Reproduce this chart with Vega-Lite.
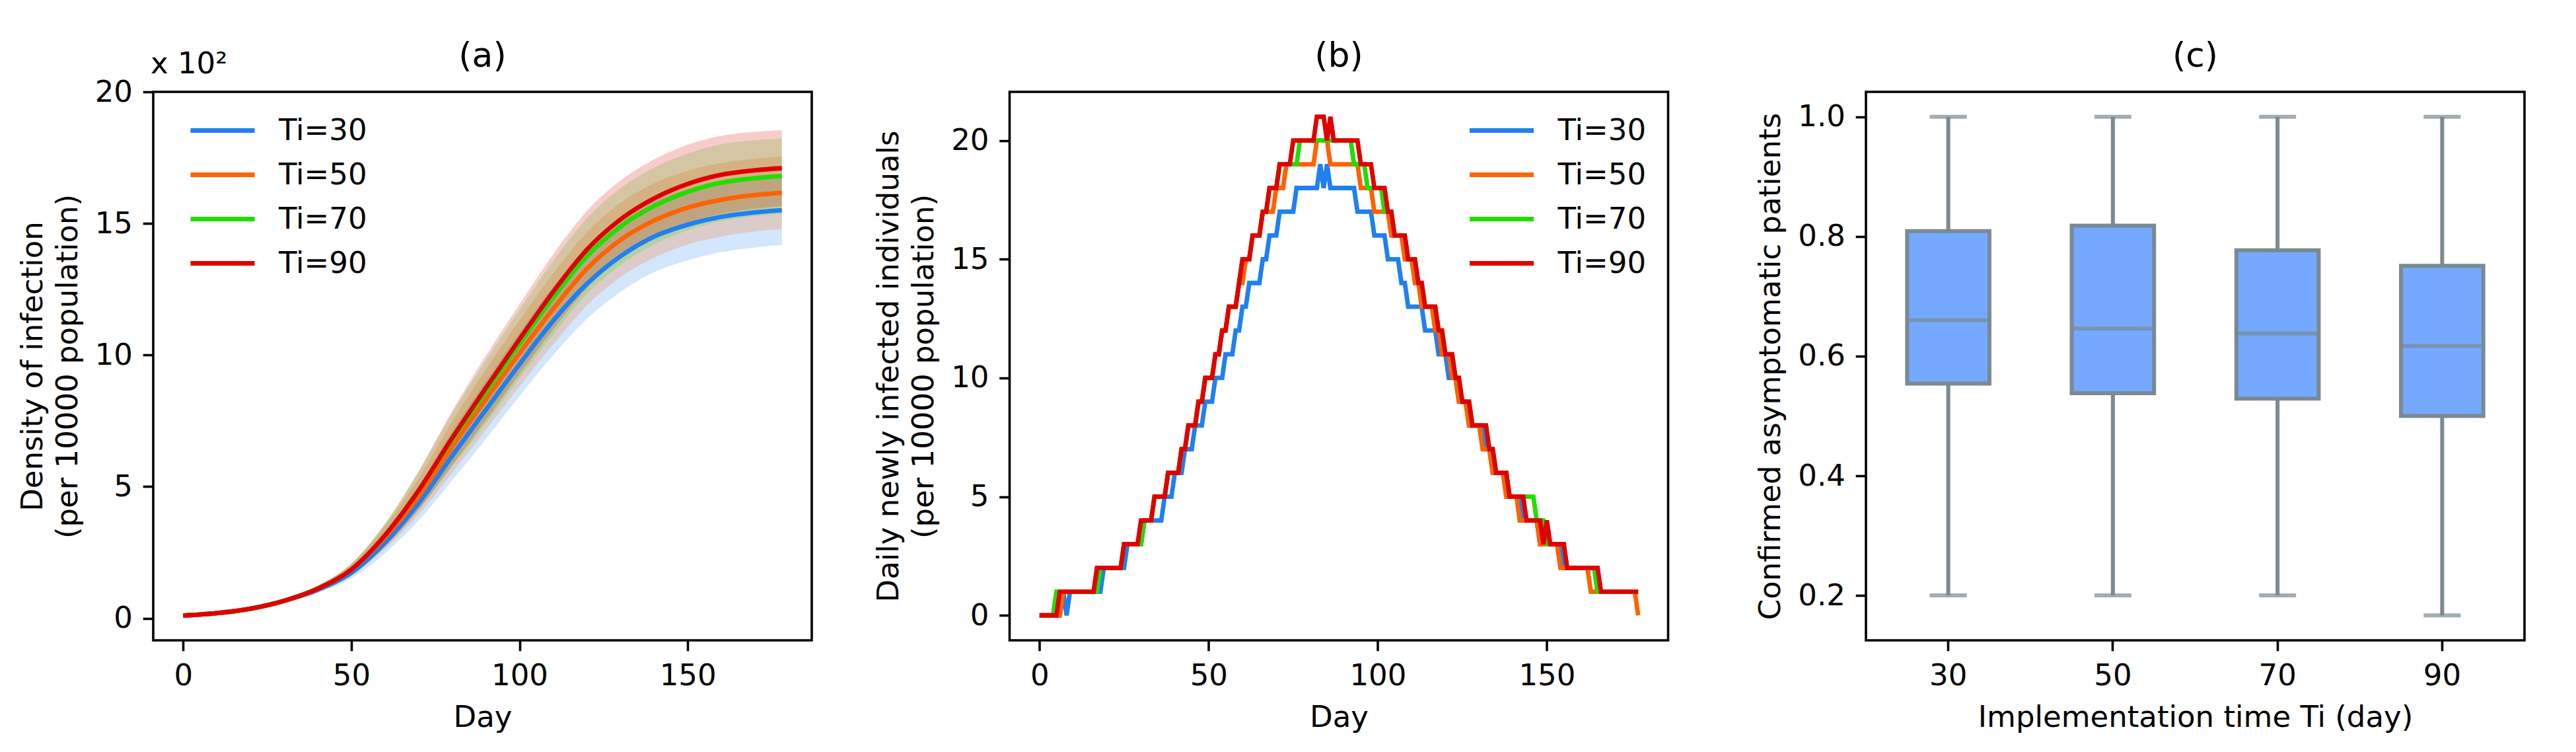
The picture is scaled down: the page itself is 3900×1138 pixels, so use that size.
{
  "$schema": "https://vega.github.io/schema/vega-lite/v6.json",
  "background": "white",
  "padding": {"left": 25, "top": 57, "right": 5, "bottom": 5},
  "bounds": "flush",
  "spacing": 299.5,
  "resolve": {"scale": {"stroke": "independent", "fill": "independent", "x": "independent", "y": "independent"}, "legend": {"stroke": "independent", "fill": "independent"}},
  "config": {
    "font": "DejaVu Sans",
    "view": {"stroke": "black", "strokeWidth": 3.6},
    "axis": {"domain": false, "grid": false, "tickColor": "black", "tickWidth": 3.6, "tickSize": 15.8, "labelPadding": 15.8, "labelFontSize": 45, "labelColor": "black", "labelFont": "DejaVu Sans", "titleFont": "DejaVu Sans", "titleFontSize": 45, "titleFontWeight": "normal", "titleColor": "black", "titlePadding": 18, "titleLineHeight": 53, "labelFlush": false, "labelOverlap": false},
    "title": {"fontSize": 52, "fontWeight": "normal", "font": "DejaVu Sans", "color": "black", "frame": "group", "baseline": "alphabetic", "offset": 27},
    "legend": {"labelFontSize": 45, "labelFont": "DejaVu Sans", "labelColor": "black", "symbolType": "stroke", "symbolSize": 9409, "symbolStrokeWidth": 6.8, "labelOffset": 33, "rowPadding": 21, "padding": 0, "clipHeight": 45}
  },
  "hconcat": [
    {
      "width": 997,
      "height": 830,
      "title": {"text": "(a)", "dy": 64},
      "data": {"values": [
        {"Ti": "Ti=30", "day": 0, "v": 0.10, "lo": 0.096, "hi": 0.104},
        {"Ti": "Ti=30", "day": 10, "v": 0.19, "lo": 0.18, "hi": 0.20},
        {"Ti": "Ti=30", "day": 20, "v": 0.36, "lo": 0.34, "hi": 0.38},
        {"Ti": "Ti=30", "day": 30, "v": 0.66, "lo": 0.61, "hi": 0.71},
        {"Ti": "Ti=30", "day": 40, "v": 1.08, "lo": 0.97, "hi": 1.19},
        {"Ti": "Ti=30", "day": 50, "v": 1.72, "lo": 1.51, "hi": 1.93},
        {"Ti": "Ti=30", "day": 60, "v": 2.87, "lo": 2.47, "hi": 3.27},
        {"Ti": "Ti=30", "day": 70, "v": 4.37, "lo": 3.71, "hi": 5.03},
        {"Ti": "Ti=30", "day": 80, "v": 6.17, "lo": 5.24, "hi": 7.10},
        {"Ti": "Ti=30", "day": 90, "v": 7.92, "lo": 6.81, "hi": 9.03},
        {"Ti": "Ti=30", "day": 100, "v": 9.65, "lo": 8.44, "hi": 10.86},
        {"Ti": "Ti=30", "day": 110, "v": 11.3, "lo": 10.0, "hi": 12.6},
        {"Ti": "Ti=30", "day": 120, "v": 12.7, "lo": 11.37, "hi": 14.03},
        {"Ti": "Ti=30", "day": 130, "v": 13.75, "lo": 12.4, "hi": 15.1},
        {"Ti": "Ti=30", "day": 140, "v": 14.5, "lo": 13.15, "hi": 15.85},
        {"Ti": "Ti=30", "day": 150, "v": 14.95, "lo": 13.6, "hi": 16.3},
        {"Ti": "Ti=30", "day": 160, "v": 15.25, "lo": 13.91, "hi": 16.59},
        {"Ti": "Ti=30", "day": 170, "v": 15.42, "lo": 14.09, "hi": 16.75},
        {"Ti": "Ti=30", "day": 178, "v": 15.5, "lo": 14.18, "hi": 16.82},
        {"Ti": "Ti=50", "day": 0, "v": 0.10, "lo": 0.096, "hi": 0.104},
        {"Ti": "Ti=50", "day": 10, "v": 0.19, "lo": 0.18, "hi": 0.20},
        {"Ti": "Ti=50", "day": 20, "v": 0.36, "lo": 0.34, "hi": 0.38},
        {"Ti": "Ti=50", "day": 30, "v": 0.66, "lo": 0.61, "hi": 0.71},
        {"Ti": "Ti=50", "day": 40, "v": 1.12, "lo": 1.01, "hi": 1.23},
        {"Ti": "Ti=50", "day": 50, "v": 1.85, "lo": 1.63, "hi": 2.07},
        {"Ti": "Ti=50", "day": 60, "v": 3.07, "lo": 2.64, "hi": 3.50},
        {"Ti": "Ti=50", "day": 70, "v": 4.63, "lo": 3.94, "hi": 5.32},
        {"Ti": "Ti=50", "day": 80, "v": 6.51, "lo": 5.53, "hi": 7.49},
        {"Ti": "Ti=50", "day": 90, "v": 8.31, "lo": 7.15, "hi": 9.47},
        {"Ti": "Ti=50", "day": 100, "v": 10.07, "lo": 8.81, "hi": 11.33},
        {"Ti": "Ti=50", "day": 110, "v": 11.75, "lo": 10.4, "hi": 13.1},
        {"Ti": "Ti=50", "day": 120, "v": 13.27, "lo": 11.88, "hi": 14.66},
        {"Ti": "Ti=50", "day": 130, "v": 14.37, "lo": 12.96, "hi": 15.78},
        {"Ti": "Ti=50", "day": 140, "v": 15.11, "lo": 13.7, "hi": 16.52},
        {"Ti": "Ti=50", "day": 150, "v": 15.6, "lo": 14.2, "hi": 17.0},
        {"Ti": "Ti=50", "day": 160, "v": 15.9, "lo": 14.5, "hi": 17.3},
        {"Ti": "Ti=50", "day": 170, "v": 16.08, "lo": 14.7, "hi": 17.46},
        {"Ti": "Ti=50", "day": 178, "v": 16.16, "lo": 14.79, "hi": 17.53},
        {"Ti": "Ti=70", "day": 0, "v": 0.10, "lo": 0.096, "hi": 0.104},
        {"Ti": "Ti=70", "day": 10, "v": 0.19, "lo": 0.18, "hi": 0.20},
        {"Ti": "Ti=70", "day": 20, "v": 0.36, "lo": 0.34, "hi": 0.38},
        {"Ti": "Ti=70", "day": 30, "v": 0.66, "lo": 0.61, "hi": 0.71},
        {"Ti": "Ti=70", "day": 40, "v": 1.12, "lo": 1.01, "hi": 1.23},
        {"Ti": "Ti=70", "day": 50, "v": 1.85, "lo": 1.63, "hi": 2.07},
        {"Ti": "Ti=70", "day": 60, "v": 3.15, "lo": 2.71, "hi": 3.59},
        {"Ti": "Ti=70", "day": 70, "v": 4.85, "lo": 4.12, "hi": 5.58},
        {"Ti": "Ti=70", "day": 80, "v": 6.78, "lo": 5.76, "hi": 7.80},
        {"Ti": "Ti=70", "day": 90, "v": 8.6, "lo": 7.4, "hi": 9.8},
        {"Ti": "Ti=70", "day": 100, "v": 10.42, "lo": 9.12, "hi": 11.72},
        {"Ti": "Ti=70", "day": 110, "v": 12.18, "lo": 10.78, "hi": 13.58},
        {"Ti": "Ti=70", "day": 120, "v": 13.75, "lo": 12.31, "hi": 15.19},
        {"Ti": "Ti=70", "day": 130, "v": 14.88, "lo": 13.42, "hi": 16.34},
        {"Ti": "Ti=70", "day": 140, "v": 15.66, "lo": 14.2, "hi": 17.12},
        {"Ti": "Ti=70", "day": 150, "v": 16.2, "lo": 14.74, "hi": 17.66},
        {"Ti": "Ti=70", "day": 160, "v": 16.55, "lo": 15.09, "hi": 18.01},
        {"Ti": "Ti=70", "day": 170, "v": 16.72, "lo": 15.28, "hi": 18.16},
        {"Ti": "Ti=70", "day": 178, "v": 16.8, "lo": 15.37, "hi": 18.23},
        {"Ti": "Ti=90", "day": 0, "v": 0.10, "lo": 0.096, "hi": 0.104},
        {"Ti": "Ti=90", "day": 10, "v": 0.19, "lo": 0.18, "hi": 0.20},
        {"Ti": "Ti=90", "day": 20, "v": 0.36, "lo": 0.34, "hi": 0.38},
        {"Ti": "Ti=90", "day": 30, "v": 0.66, "lo": 0.61, "hi": 0.71},
        {"Ti": "Ti=90", "day": 40, "v": 1.12, "lo": 1.01, "hi": 1.23},
        {"Ti": "Ti=90", "day": 50, "v": 1.85, "lo": 1.63, "hi": 2.07},
        {"Ti": "Ti=90", "day": 60, "v": 3.15, "lo": 2.71, "hi": 3.59},
        {"Ti": "Ti=90", "day": 70, "v": 4.85, "lo": 4.12, "hi": 5.58},
        {"Ti": "Ti=90", "day": 80, "v": 6.85, "lo": 5.82, "hi": 7.88},
        {"Ti": "Ti=90", "day": 90, "v": 8.75, "lo": 7.53, "hi": 9.98},
        {"Ti": "Ti=90", "day": 100, "v": 10.6, "lo": 9.28, "hi": 11.93},
        {"Ti": "Ti=90", "day": 110, "v": 12.4, "lo": 10.97, "hi": 13.83},
        {"Ti": "Ti=90", "day": 120, "v": 14.0, "lo": 12.53, "hi": 15.47},
        {"Ti": "Ti=90", "day": 130, "v": 15.15, "lo": 13.67, "hi": 16.63},
        {"Ti": "Ti=90", "day": 140, "v": 15.95, "lo": 14.47, "hi": 17.43},
        {"Ti": "Ti=90", "day": 150, "v": 16.5, "lo": 15.02, "hi": 17.99},
        {"Ti": "Ti=90", "day": 160, "v": 16.85, "lo": 15.37, "hi": 18.33},
        {"Ti": "Ti=90", "day": 170, "v": 17.02, "lo": 15.56, "hi": 18.48},
        {"Ti": "Ti=90", "day": 178, "v": 17.1, "lo": 15.65, "hi": 18.55}
      ]},
      "layer": [
        {
          "mark": {"type": "area", "fillOpacity": 0.2, "interpolate": "monotone"},
          "encoding": {
            "x": {"field": "day", "type": "quantitative", "scale": {"domain": [-8.9, 186.9], "nice": false, "zero": false}, "axis": {"title": "Day", "values": [0, 50, 100, 150]}},
            "y": {"field": "lo", "type": "quantitative", "scale": {"domain": [-0.84, 20], "nice": false, "zero": false}, "axis": {"title": ["Density of infection", "(per 10000 population)"], "values": [0, 5, 10, 15, 20]}},
            "y2": {"field": "hi"},
            "fill": {"field": "Ti", "type": "nominal", "scale": {"domain": ["Ti=30", "Ti=50", "Ti=70", "Ti=90"], "range": ["#1f80f0", "#ff6200", "#22dd00", "#e00000"]}, "legend": {"title": null, "orient": "none", "legendX": 53, "legendY": 36}}
          }
        },
        {
          "mark": {"type": "line", "strokeWidth": 6.8, "interpolate": "monotone"},
          "encoding": {
            "x": {"field": "day", "type": "quantitative"},
            "y": {"field": "v", "type": "quantitative"},
            "stroke": {"field": "Ti", "type": "nominal", "scale": {"domain": ["Ti=30", "Ti=50", "Ti=70", "Ti=90"], "range": ["#1f80f0", "#ff6200", "#22dd00", "#e00000"]}, "legend": {"title": null, "orient": "none", "legendX": 53, "legendY": 36}}
          }
        },
        {
          "data": {"values": [{"t": "x 10²"}]},
          "mark": {"type": "text", "align": "left", "baseline": "alphabetic", "fontSize": 45, "color": "black", "dx": -4, "dy": -28},
          "encoding": {
            "text": {"field": "t"},
            "x": {"datum": -8.9, "type": "quantitative"},
            "y": {"datum": 20, "type": "quantitative"}
          }
        }
      ]
    },
    {
      "width": 997,
      "height": 830,
      "title": "(b)",
      "data": {"values": [
        {"Ti":"Ti=30","day":0,"v":0},{"Ti":"Ti=30","day":6,"v":0},{"Ti":"Ti=30","day":7,"v":1},{"Ti":"Ti=30","day":8,"v":0},{"Ti":"Ti=30","day":9,"v":1},{"Ti":"Ti=30","day":18,"v":1},{"Ti":"Ti=30","day":19,"v":2},{"Ti":"Ti=30","day":25,"v":2},{"Ti":"Ti=30","day":26,"v":3},{"Ti":"Ti=30","day":30,"v":3},{"Ti":"Ti=30","day":31,"v":4},{"Ti":"Ti=30","day":36,"v":4},{"Ti":"Ti=30","day":37,"v":5},{"Ti":"Ti=30","day":39,"v":5},{"Ti":"Ti=30","day":40,"v":6},{"Ti":"Ti=30","day":42,"v":6},{"Ti":"Ti=30","day":43,"v":7},{"Ti":"Ti=30","day":45,"v":7},{"Ti":"Ti=30","day":46,"v":8},{"Ti":"Ti=30","day":48,"v":8},{"Ti":"Ti=30","day":49,"v":9},{"Ti":"Ti=30","day":51,"v":9},{"Ti":"Ti=30","day":52,"v":10},{"Ti":"Ti=30","day":54,"v":10},{"Ti":"Ti=30","day":55,"v":11},{"Ti":"Ti=30","day":57,"v":11},{"Ti":"Ti=30","day":58,"v":12},{"Ti":"Ti=30","day":59,"v":12},{"Ti":"Ti=30","day":60,"v":13},{"Ti":"Ti=30","day":61,"v":13},{"Ti":"Ti=30","day":62,"v":14},{"Ti":"Ti=30","day":65,"v":14},{"Ti":"Ti=30","day":66,"v":15},{"Ti":"Ti=30","day":67,"v":15},{"Ti":"Ti=30","day":68,"v":16},{"Ti":"Ti=30","day":70,"v":16},{"Ti":"Ti=30","day":71,"v":17},{"Ti":"Ti=30","day":75,"v":17},{"Ti":"Ti=30","day":76,"v":18},{"Ti":"Ti=30","day":82,"v":18},{"Ti":"Ti=30","day":83,"v":19},{"Ti":"Ti=30","day":84,"v":18},{"Ti":"Ti=30","day":85,"v":19},{"Ti":"Ti=30","day":86,"v":18},{"Ti":"Ti=30","day":93,"v":18},{"Ti":"Ti=30","day":94,"v":17},{"Ti":"Ti=30","day":98,"v":17},{"Ti":"Ti=30","day":99,"v":16},{"Ti":"Ti=30","day":102,"v":16},{"Ti":"Ti=30","day":103,"v":15},{"Ti":"Ti=30","day":106,"v":15},{"Ti":"Ti=30","day":107,"v":14},{"Ti":"Ti=30","day":108,"v":14},{"Ti":"Ti=30","day":109,"v":13},{"Ti":"Ti=30","day":113,"v":13},{"Ti":"Ti=30","day":114,"v":12},{"Ti":"Ti=30","day":117,"v":12},{"Ti":"Ti=30","day":118,"v":11},{"Ti":"Ti=30","day":120,"v":11},{"Ti":"Ti=30","day":121,"v":10},{"Ti":"Ti=30","day":123,"v":10},{"Ti":"Ti=30","day":124,"v":9},{"Ti":"Ti=30","day":126,"v":9},{"Ti":"Ti=30","day":127,"v":8},{"Ti":"Ti=30","day":131,"v":8},{"Ti":"Ti=30","day":132,"v":7},{"Ti":"Ti=30","day":133,"v":7},{"Ti":"Ti=30","day":134,"v":6},{"Ti":"Ti=30","day":138,"v":6},{"Ti":"Ti=30","day":139,"v":5},{"Ti":"Ti=30","day":142,"v":5},{"Ti":"Ti=30","day":143,"v":4},{"Ti":"Ti=30","day":147,"v":4},{"Ti":"Ti=30","day":148,"v":3},{"Ti":"Ti=30","day":154,"v":3},{"Ti":"Ti=30","day":155,"v":2},{"Ti":"Ti=30","day":164,"v":2},{"Ti":"Ti=30","day":165,"v":1},{"Ti":"Ti=30","day":177,"v":1},
        {"Ti":"Ti=50","day":0,"v":0},{"Ti":"Ti=50","day":6,"v":0},{"Ti":"Ti=50","day":7,"v":1},{"Ti":"Ti=50","day":16,"v":1},{"Ti":"Ti=50","day":17,"v":2},{"Ti":"Ti=50","day":24,"v":2},{"Ti":"Ti=50","day":25,"v":3},{"Ti":"Ti=50","day":30,"v":3},{"Ti":"Ti=50","day":31,"v":4},{"Ti":"Ti=50","day":33,"v":4},{"Ti":"Ti=50","day":34,"v":5},{"Ti":"Ti=50","day":37,"v":5},{"Ti":"Ti=50","day":38,"v":6},{"Ti":"Ti=50","day":41,"v":6},{"Ti":"Ti=50","day":42,"v":7},{"Ti":"Ti=50","day":43,"v":7},{"Ti":"Ti=50","day":44,"v":8},{"Ti":"Ti=50","day":46,"v":8},{"Ti":"Ti=50","day":47,"v":9},{"Ti":"Ti=50","day":48,"v":9},{"Ti":"Ti=50","day":49,"v":10},{"Ti":"Ti=50","day":51,"v":10},{"Ti":"Ti=50","day":52,"v":11},{"Ti":"Ti=50","day":53,"v":11},{"Ti":"Ti=50","day":54,"v":12},{"Ti":"Ti=50","day":55,"v":12},{"Ti":"Ti=50","day":56,"v":13},{"Ti":"Ti=50","day":58,"v":13},{"Ti":"Ti=50","day":59,"v":14},{"Ti":"Ti=50","day":60,"v":14},{"Ti":"Ti=50","day":61,"v":15},{"Ti":"Ti=50","day":62,"v":15},{"Ti":"Ti=50","day":63,"v":16},{"Ti":"Ti=50","day":65,"v":16},{"Ti":"Ti=50","day":66,"v":17},{"Ti":"Ti=50","day":69,"v":17},{"Ti":"Ti=50","day":70,"v":18},{"Ti":"Ti=50","day":72,"v":18},{"Ti":"Ti=50","day":73,"v":19},{"Ti":"Ti=50","day":81,"v":19},{"Ti":"Ti=50","day":82,"v":20},{"Ti":"Ti=50","day":85,"v":20},{"Ti":"Ti=50","day":86,"v":19},{"Ti":"Ti=50","day":94,"v":19},{"Ti":"Ti=50","day":95,"v":18},{"Ti":"Ti=50","day":98,"v":18},{"Ti":"Ti=50","day":99,"v":17},{"Ti":"Ti=50","day":103,"v":17},{"Ti":"Ti=50","day":104,"v":16},{"Ti":"Ti=50","day":107,"v":16},{"Ti":"Ti=50","day":108,"v":15},{"Ti":"Ti=50","day":110,"v":15},{"Ti":"Ti=50","day":111,"v":14},{"Ti":"Ti=50","day":112,"v":14},{"Ti":"Ti=50","day":113,"v":13},{"Ti":"Ti=50","day":116,"v":13},{"Ti":"Ti=50","day":117,"v":12},{"Ti":"Ti=50","day":118,"v":12},{"Ti":"Ti=50","day":119,"v":11},{"Ti":"Ti=50","day":121,"v":11},{"Ti":"Ti=50","day":122,"v":10},{"Ti":"Ti=50","day":123,"v":10},{"Ti":"Ti=50","day":124,"v":9},{"Ti":"Ti=50","day":126,"v":9},{"Ti":"Ti=50","day":127,"v":8},{"Ti":"Ti=50","day":130,"v":8},{"Ti":"Ti=50","day":131,"v":7},{"Ti":"Ti=50","day":133,"v":7},{"Ti":"Ti=50","day":134,"v":6},{"Ti":"Ti=50","day":137,"v":6},{"Ti":"Ti=50","day":138,"v":5},{"Ti":"Ti=50","day":141,"v":5},{"Ti":"Ti=50","day":142,"v":4},{"Ti":"Ti=50","day":147,"v":4},{"Ti":"Ti=50","day":148,"v":3},{"Ti":"Ti=50","day":153,"v":3},{"Ti":"Ti=50","day":154,"v":2},{"Ti":"Ti=50","day":162,"v":2},{"Ti":"Ti=50","day":163,"v":1},{"Ti":"Ti=50","day":176,"v":1},{"Ti":"Ti=50","day":177,"v":0},
        {"Ti":"Ti=70","day":0,"v":0},{"Ti":"Ti=70","day":4,"v":0},{"Ti":"Ti=70","day":5,"v":1},{"Ti":"Ti=70","day":17,"v":1},{"Ti":"Ti=70","day":18,"v":2},{"Ti":"Ti=70","day":24,"v":2},{"Ti":"Ti=70","day":25,"v":3},{"Ti":"Ti=70","day":30,"v":3},{"Ti":"Ti=70","day":31,"v":4},{"Ti":"Ti=70","day":33,"v":4},{"Ti":"Ti=70","day":34,"v":5},{"Ti":"Ti=70","day":37,"v":5},{"Ti":"Ti=70","day":38,"v":6},{"Ti":"Ti=70","day":41,"v":6},{"Ti":"Ti=70","day":42,"v":7},{"Ti":"Ti=70","day":43,"v":7},{"Ti":"Ti=70","day":44,"v":8},{"Ti":"Ti=70","day":46,"v":8},{"Ti":"Ti=70","day":47,"v":9},{"Ti":"Ti=70","day":48,"v":9},{"Ti":"Ti=70","day":49,"v":10},{"Ti":"Ti=70","day":51,"v":10},{"Ti":"Ti=70","day":52,"v":11},{"Ti":"Ti=70","day":53,"v":11},{"Ti":"Ti=70","day":54,"v":12},{"Ti":"Ti=70","day":55,"v":12},{"Ti":"Ti=70","day":56,"v":13},{"Ti":"Ti=70","day":58,"v":13},{"Ti":"Ti=70","day":59,"v":14},{"Ti":"Ti=70","day":60,"v":15},{"Ti":"Ti=70","day":62,"v":15},{"Ti":"Ti=70","day":63,"v":16},{"Ti":"Ti=70","day":65,"v":16},{"Ti":"Ti=70","day":66,"v":17},{"Ti":"Ti=70","day":67,"v":17},{"Ti":"Ti=70","day":68,"v":18},{"Ti":"Ti=70","day":70,"v":18},{"Ti":"Ti=70","day":71,"v":19},{"Ti":"Ti=70","day":76,"v":19},{"Ti":"Ti=70","day":77,"v":20},{"Ti":"Ti=70","day":92,"v":20},{"Ti":"Ti=70","day":93,"v":19},{"Ti":"Ti=70","day":96,"v":19},{"Ti":"Ti=70","day":97,"v":18},{"Ti":"Ti=70","day":101,"v":18},{"Ti":"Ti=70","day":102,"v":17},{"Ti":"Ti=70","day":104,"v":17},{"Ti":"Ti=70","day":105,"v":16},{"Ti":"Ti=70","day":108,"v":16},{"Ti":"Ti=70","day":109,"v":15},{"Ti":"Ti=70","day":111,"v":15},{"Ti":"Ti=70","day":112,"v":14},{"Ti":"Ti=70","day":113,"v":14},{"Ti":"Ti=70","day":114,"v":13},{"Ti":"Ti=70","day":117,"v":13},{"Ti":"Ti=70","day":118,"v":12},{"Ti":"Ti=70","day":119,"v":12},{"Ti":"Ti=70","day":120,"v":11},{"Ti":"Ti=70","day":122,"v":11},{"Ti":"Ti=70","day":123,"v":10},{"Ti":"Ti=70","day":124,"v":10},{"Ti":"Ti=70","day":125,"v":9},{"Ti":"Ti=70","day":127,"v":9},{"Ti":"Ti=70","day":128,"v":8},{"Ti":"Ti=70","day":132,"v":8},{"Ti":"Ti=70","day":133,"v":7},{"Ti":"Ti=70","day":134,"v":7},{"Ti":"Ti=70","day":135,"v":6},{"Ti":"Ti=70","day":138,"v":6},{"Ti":"Ti=70","day":139,"v":5},{"Ti":"Ti=70","day":146,"v":5},{"Ti":"Ti=70","day":147,"v":4},{"Ti":"Ti=70","day":149,"v":4},{"Ti":"Ti=70","day":150,"v":3},{"Ti":"Ti=70","day":155,"v":3},{"Ti":"Ti=70","day":156,"v":2},{"Ti":"Ti=70","day":164,"v":2},{"Ti":"Ti=70","day":165,"v":1},{"Ti":"Ti=70","day":177,"v":1},
        {"Ti":"Ti=90","day":0,"v":0},{"Ti":"Ti=90","day":5,"v":0},{"Ti":"Ti=90","day":6,"v":1},{"Ti":"Ti=90","day":16,"v":1},{"Ti":"Ti=90","day":17,"v":2},{"Ti":"Ti=90","day":24,"v":2},{"Ti":"Ti=90","day":25,"v":3},{"Ti":"Ti=90","day":29,"v":3},{"Ti":"Ti=90","day":30,"v":4},{"Ti":"Ti=90","day":33,"v":4},{"Ti":"Ti=90","day":34,"v":5},{"Ti":"Ti=90","day":37,"v":5},{"Ti":"Ti=90","day":38,"v":6},{"Ti":"Ti=90","day":41,"v":6},{"Ti":"Ti=90","day":42,"v":7},{"Ti":"Ti=90","day":43,"v":7},{"Ti":"Ti=90","day":44,"v":8},{"Ti":"Ti=90","day":46,"v":8},{"Ti":"Ti=90","day":47,"v":9},{"Ti":"Ti=90","day":48,"v":9},{"Ti":"Ti=90","day":49,"v":10},{"Ti":"Ti=90","day":51,"v":10},{"Ti":"Ti=90","day":52,"v":11},{"Ti":"Ti=90","day":53,"v":11},{"Ti":"Ti=90","day":54,"v":12},{"Ti":"Ti=90","day":55,"v":12},{"Ti":"Ti=90","day":56,"v":13},{"Ti":"Ti=90","day":58,"v":13},{"Ti":"Ti=90","day":59,"v":14},{"Ti":"Ti=90","day":60,"v":15},{"Ti":"Ti=90","day":62,"v":15},{"Ti":"Ti=90","day":63,"v":16},{"Ti":"Ti=90","day":65,"v":16},{"Ti":"Ti=90","day":66,"v":17},{"Ti":"Ti=90","day":67,"v":17},{"Ti":"Ti=90","day":68,"v":18},{"Ti":"Ti=90","day":70,"v":18},{"Ti":"Ti=90","day":71,"v":19},{"Ti":"Ti=90","day":74,"v":19},{"Ti":"Ti=90","day":75,"v":20},{"Ti":"Ti=90","day":81,"v":20},{"Ti":"Ti=90","day":82,"v":21},{"Ti":"Ti=90","day":84,"v":21},{"Ti":"Ti=90","day":85,"v":20},{"Ti":"Ti=90","day":86,"v":21},{"Ti":"Ti=90","day":87,"v":20},{"Ti":"Ti=90","day":94,"v":20},{"Ti":"Ti=90","day":95,"v":19},{"Ti":"Ti=90","day":98,"v":19},{"Ti":"Ti=90","day":99,"v":18},{"Ti":"Ti=90","day":102,"v":18},{"Ti":"Ti=90","day":103,"v":17},{"Ti":"Ti=90","day":104,"v":17},{"Ti":"Ti=90","day":105,"v":16},{"Ti":"Ti=90","day":108,"v":16},{"Ti":"Ti=90","day":109,"v":15},{"Ti":"Ti=90","day":111,"v":15},{"Ti":"Ti=90","day":112,"v":14},{"Ti":"Ti=90","day":113,"v":14},{"Ti":"Ti=90","day":114,"v":13},{"Ti":"Ti=90","day":117,"v":13},{"Ti":"Ti=90","day":118,"v":12},{"Ti":"Ti=90","day":119,"v":12},{"Ti":"Ti=90","day":120,"v":11},{"Ti":"Ti=90","day":122,"v":11},{"Ti":"Ti=90","day":123,"v":10},{"Ti":"Ti=90","day":124,"v":10},{"Ti":"Ti=90","day":125,"v":9},{"Ti":"Ti=90","day":127,"v":9},{"Ti":"Ti=90","day":128,"v":8},{"Ti":"Ti=90","day":132,"v":8},{"Ti":"Ti=90","day":133,"v":7},{"Ti":"Ti=90","day":134,"v":7},{"Ti":"Ti=90","day":135,"v":6},{"Ti":"Ti=90","day":138,"v":6},{"Ti":"Ti=90","day":139,"v":5},{"Ti":"Ti=90","day":143,"v":5},{"Ti":"Ti=90","day":144,"v":4},{"Ti":"Ti=90","day":148,"v":4},{"Ti":"Ti=90","day":149,"v":3},{"Ti":"Ti=90","day":150,"v":4},{"Ti":"Ti=90","day":151,"v":3},{"Ti":"Ti=90","day":155,"v":3},{"Ti":"Ti=90","day":156,"v":2},{"Ti":"Ti=90","day":165,"v":2},{"Ti":"Ti=90","day":166,"v":1},{"Ti":"Ti=90","day":177,"v":1}
      ]},
      "mark": {"type": "line", "strokeWidth": 6.8},
      "encoding": {
        "x": {"field": "day", "type": "quantitative", "scale": {"domain": [-8.85, 185.85], "nice": false, "zero": false}, "axis": {"title": "Day", "values": [0, 50, 100, 150]}},
        "y": {"field": "v", "type": "quantitative", "scale": {"domain": [-1.05, 22.05], "nice": false, "zero": false}, "axis": {"title": ["Daily newly infected individuals", "(per 10000 population)"], "values": [0, 5, 10, 15, 20]}},
        "stroke": {"field": "Ti", "type": "nominal", "scale": {"domain": ["Ti=30", "Ti=50", "Ti=70", "Ti=90"], "range": ["#1f80f0", "#ff6200", "#22dd00", "#e00000"]}, "legend": {"title": null, "orient": "none", "legendX": 693, "legendY": 36}}
      }
    },
    {
      "width": 997,
      "height": 830,
      "title": "(c)",
      "data": {"values": [
        {"Ti": "30", "lower": 0.2, "q1": 0.554, "median": 0.660, "q3": 0.809, "upper": 1.0},
        {"Ti": "50", "lower": 0.2, "q1": 0.538, "median": 0.646, "q3": 0.818, "upper": 1.0},
        {"Ti": "70", "lower": 0.2, "q1": 0.529, "median": 0.638, "q3": 0.777, "upper": 1.0},
        {"Ti": "90", "lower": 0.1667, "q1": 0.500, "median": 0.617, "q3": 0.751, "upper": 1.0}
      ]},
      "encoding": {
        "x": {"field": "Ti", "type": "ordinal", "scale": {"paddingInner": 0.5, "paddingOuter": 0.25}, "axis": {"labelAngle": 0, "title": "Implementation time Ti (day)"}}
      },
      "layer": [
        {
          "mark": {"type": "rule", "color": "#7a8a92", "strokeWidth": 6},
          "encoding": {
            "y": {"field": "lower", "type": "quantitative", "scale": {"domain": [0.125, 1.0417], "nice": false, "zero": false}, "axis": {"title": "Confirmed asymptomatic patients", "values": [0.2, 0.4, 0.6, 0.8, 1.0], "format": ".1f"}},
            "y2": {"field": "q1"}
          }
        },
        {
          "mark": {"type": "rule", "color": "#7a8a92", "strokeWidth": 6},
          "encoding": {
            "y": {"field": "q3", "type": "quantitative"},
            "y2": {"field": "upper"}
          }
        },
        {
          "mark": {"type": "bar", "fill": "#74a9ff", "stroke": "#7a8a92", "strokeWidth": 6},
          "encoding": {
            "y": {"field": "q1", "type": "quantitative"},
            "y2": {"field": "q3"}
          }
        },
        {
          "mark": {"type": "tick", "color": "#7a8a92", "size": 124, "thickness": 6},
          "encoding": {"y": {"field": "median", "type": "quantitative"}}
        },
        {
          "mark": {"type": "tick", "color": "#7a8a92", "size": 56, "thickness": 6},
          "encoding": {"y": {"field": "lower", "type": "quantitative"}}
        },
        {
          "mark": {"type": "tick", "color": "#7a8a92", "size": 56, "thickness": 6},
          "encoding": {"y": {"field": "upper", "type": "quantitative"}}
        }
      ]
    }
  ]
}
